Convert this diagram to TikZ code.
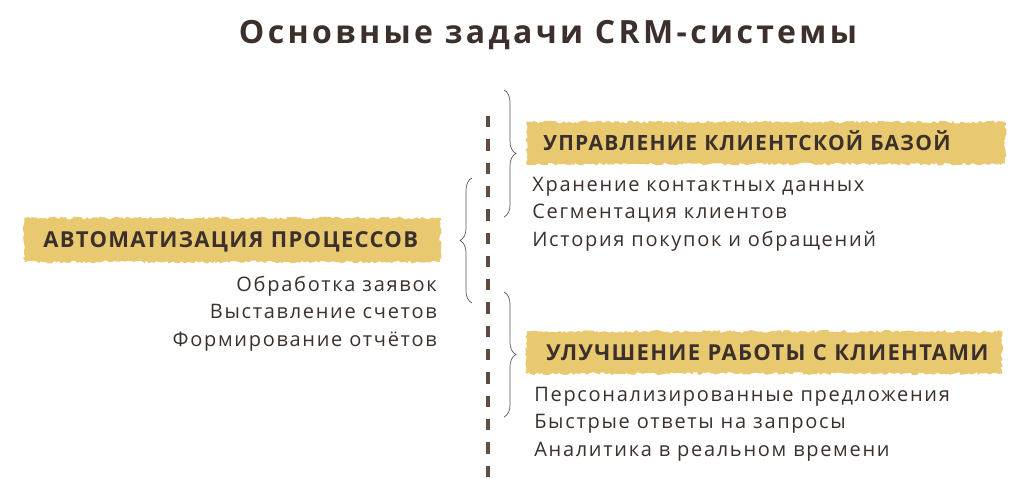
\documentclass[tikz,border=0pt]{standalone}
\usepackage{fontspec}
\setmainfont{Open Sans}
\newfontfamily\titlefont{Open Sans}[LetterSpace=10.5]
\newfontfamily\bannerfont{Open Sans}[LetterSpace=6]
\newfontfamily\itemfont{Open Sans}[LetterSpace=8.5]
\usepackage{tikz}
\usetikzlibrary{positioning}
\usetikzlibrary{decorations.pathmorphing}
\usetikzlibrary{decorations.pathreplacing}
\definecolor{ink}{rgb}{0.23,0.19,0.17}
\definecolor{mustard}{rgb}{0.91,0.79,0.44}
\definecolor{dashbrown}{rgb}{0.36,0.30,0.26}
\definecolor{bracegray}{rgb}{0.38,0.34,0.31}

\begin{document}
\begin{tikzpicture}[
            x = 1pt, y = -1pt, % one unit = one pixel, y points down
            node distance = 8pt, % gap between list lines
            semithick % line style
        ]

        \tikzstyle{banner}=[
            fill = mustard,
            decorate,
            decoration = {random steps, segment length = 2.5pt, amplitude = 1.5pt},
            text = ink,
            font = \bannerfont\bfseries\fontsize{21}{21}\selectfont,
            align = left,
            text height = 15pt,
            text depth = 0pt,
            minimum height = 42pt
        ]
        \tikzstyle{item}=[
            text = ink,
            font = \itemfont\fontsize{20}{20}\selectfont,
            inner sep = 0pt,
            text height = 14pt,
            text depth = 5pt
        ]
        \tikzstyle{curly}=[
            draw = bracegray,
            line width = 0.7pt,
            decorate,
            decoration = {brace, amplitude = 12pt}
        ]

        \useasboundingbox (0,0) rectangle (1036,500);

        % title
        \node[text = ink, font = \titlefont\bfseries\fontsize{32}{32}\selectfont, anchor = base] (T) at (548,44) {Основные задачи CRM-системы};

        % dashed divider
        \coordinate (Dtop) at (488,116);
        \coordinate (Dbot) at (488,477);
        \draw[dashbrown, line width = 4pt, dash pattern = on 11.3pt off 12pt] (Dtop) -- (Dbot);

        % left group
        \node[banner, anchor = west, inner xsep = 19pt, text width = 378pt, minimum height = 44pt,
              font = \bannerfont\bfseries\fontsize{22}{22}\selectfont] (AP) at (24,240) {АВТОМАТИЗАЦИЯ~ПРОЦЕССОВ};

        \node[item, anchor = base east] (A1) at (437,291) {Обработка заявок};
        \node[item, below left = 8pt and 0pt of A1.south east] (A2) {Выставление счетов};
        \node[item, below left = 8pt and 0pt of A2.south east] (A3) {Формирование отчётов};

        % right group, top
        \node[banner, anchor = west, inner xsep = 17pt, text width = 445pt] (UB) at (526,143) {УПРАВЛЕНИЕ~КЛИЕНТСКОЙ~БАЗОЙ};

        \node[item, anchor = base west] (U1) at (532,191) {Хранение контактных данных};
        \node[item, below right = 8pt and 0pt of U1.south west] (U2) {Сегментация клиентов};
        \node[item, below right = 8pt and 0pt of U2.south west] (U3) {История покупок и обращений};

        % right group, bottom
        \node[banner, anchor = west, inner xsep = 20pt, text width = 436pt,
              font = \bannerfont\bfseries\fontsize{22}{22}\selectfont] (RK) at (526,352.5) {УЛУЧШЕНИЕ~РАБОТЫ~С~КЛИЕНТАМИ};

        \node[item, anchor = base west] (R1) at (534,401) {Персонализированные предложения};
        \node[item, below right = 8pt and 0pt of R1.south west] (R2) {Быстрые ответы на запросы};
        \node[item, below right = 8pt and 0pt of R2.south west] (R3) {Аналитика в реальном времени};

        % braces
        \coordinate (B1a) at (504,90);
        \coordinate (B1b) at (504,217);
        \draw[curly] (B1a) -- (B1b);

        \coordinate (B2a) at (472,303);
        \coordinate (B2b) at (472,178);
        \draw[curly] (B2a) -- (B2b);

        \coordinate (B3a) at (504,292);
        \coordinate (B3b) at (504,417);
        \draw[curly] (B3a) -- (B3b);

\end{tikzpicture}
\end{document}
